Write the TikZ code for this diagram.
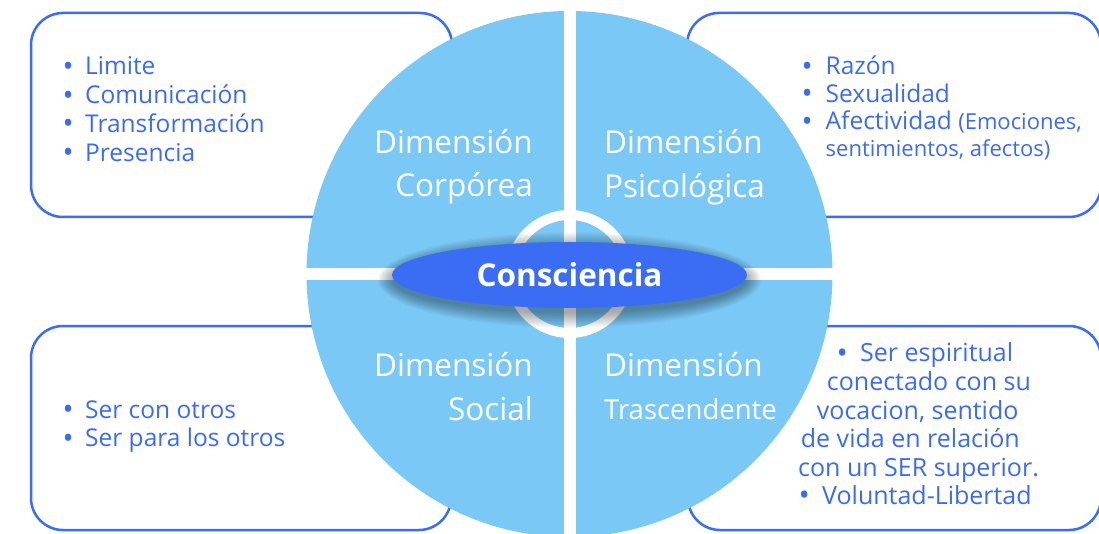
\documentclass[tikz,border=0pt]{standalone}
\usepackage{fontspec}
\setmainfont{Open Sans}
\usetikzlibrary{shapes.geometric}
\definecolor{cblue}{RGB}{59,108,244}
\definecolor{lblue}{RGB}{122,200,245}
\definecolor{tblue}{RGB}{59,108,240}
\newcommand{\bul}[1]{\makebox[#1][l]{\raisebox{-1.5pt}{\scalebox{1.2}{•}}}}
\begin{document}
\begin{tikzpicture}[x=1pt,y=-1pt,
  infobox/.style={draw=cblue, line width=2.5pt, rounded corners=32pt, fill=white},
  listtext/.style={text=tblue, inner sep=0pt, anchor=base west, font=\fontsize{24.5}{28.7}\selectfont},
  linetext/.style={text=tblue, inner sep=0pt, anchor=base west, font=\fontsize{25}{28.7}\selectfont},
  dimtext/.style={text=white, inner sep=0pt, font=\fontsize{31.5}{43.3}\selectfont},
  divider/.style={white, line width=12pt},
  shadowlayer/.style={fill=black, opacity=0.03},
]
\useasboundingbox (0,0) rectangle (1099,534);
\fill[white] (0,0) rectangle (1099,534);
% info boxes
\draw[infobox] (31,13) rectangle (452,217);
\draw[infobox] (687,13) rectangle (1101,217);
\draw[infobox] (31,326) rectangle (451,530);
\draw[infobox] (688,326) rectangle (1101,530);
% disk
\node[circle, fill=lblue, minimum size=526pt, inner sep=0pt] (disk) at (569.5,274) {};
\draw[divider] (disk.north) -- (disk.south);
\draw[divider] (disk.west) -- (disk.east);
\node[circle, draw=white, line width=10pt, minimum size=118pt, inner sep=0pt] (ring) at (disk.center) {};
% soft shadow of the central ellipse
\foreach \i in {1,...,12}
  \fill[shadowlayer] (569.5,280) ellipse [x radius={176+\i*1.3}, y radius={32+\i*1.3}];
\node[ellipse, fill=cblue, minimum width=355pt, minimum height=66pt, inner sep=0pt,
  text=white, font=\bfseries\fontsize{31.5}{36}\selectfont] (cons) at (569.5,275) {Consciencia};
% dimension labels
\node[dimtext, anchor=base east] (dc) at (533,153.5) {\begin{tabular}[t]{@{}r@{}}Dimensión\\Corpórea\end{tabular}};
\node[dimtext, anchor=base west] (dp) at (604,154) {\begin{tabular}[t]{@{}l@{}}Dimensión\\Psicológica\end{tabular}};
\node[dimtext, anchor=base east] (ds) at (533,376.7) {\begin{tabular}[t]{@{}r@{}}Dimensión\\Social\end{tabular}};
\node[dimtext, anchor=base west] (dt1) at (604,376.7) {Dimensión};
\node[dimtext, anchor=base west, font=\fontsize{27.5}{30}\selectfont] (dt2) at (604,419) {Trascendente};
% lists
\node[listtext] (lc) at (62.5,75) {\begin{tabular}[t]{@{}l@{}l@{}}
\bul{22.5pt}&Limite\\ \bul{22.5pt}&Comunicación\\ \bul{22.5pt}&Transformación\\ \bul{22.5pt}&Presencia\end{tabular}};
\node[listtext, font=\fontsize{24.5}{27.3}\selectfont] (lp) at (801.5,75) {\begin{tabular}[t]{@{}l@{}l@{}}
\bul{24pt}&Razón\\ \bul{24pt}&Sexualidad\\ \bul{24pt}&Afectividad {\fontsize{22}{27.3}\selectfont(Emociones,}\\ &{\fontsize{22}{27.3}\selectfont sentimientos, afectos)}\end{tabular}};
\node[listtext] (ls) at (62.5,418) {\begin{tabular}[t]{@{}l@{}l@{}}
\bul{22.5pt}&Ser con otros\\ \bul{22.5pt}&Ser para los otros\end{tabular}};
\node[linetext] (t1) at (836.5,361.7) {\bul{23.5pt}Ser espiritual};
\node[linetext] (t2) at (826.7,390.7) {conectado con su};
\node[linetext] (t3) at (816.7,419) {vocacion, sentido};
\node[linetext] (t4) at (800.7,447.7) {de vida en relación};
\node[linetext] (t5) at (798,476) {con un SER superior.};
\node[linetext] (t6) at (798.5,504) {\bul{23.5pt}Voluntad-Libertad};
\end{tikzpicture}
\end{document}
